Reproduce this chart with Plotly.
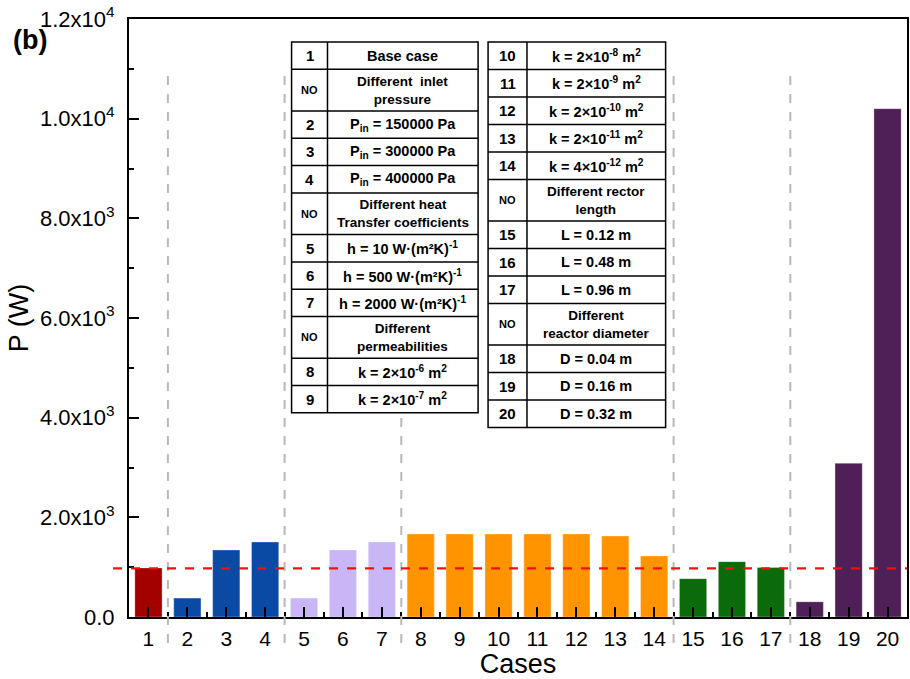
import plotly.graph_objects as go

# ---- data -------------------------------------------------------------
cases = list(range(1, 21))
power_w = [985, 380, 1345, 1505, 380, 1345, 1505, 1665, 1665, 1665,
           1665, 1665, 1625, 1225, 770, 1110, 995, 305, 3085, 10200]
group_colors = {
    "base": "#a30000",
    "pressure": "#0a4aa5",
    "heat": "#c9b6f7",
    "perm": "#ff9400",
    "length": "#0b6b0b",
    "diameter": "#4f1f57",
}
case_group = (["base"] + ["pressure"] * 3 + ["heat"] * 3 + ["perm"] * 7
              + ["length"] * 3 + ["diameter"] * 3)
base_value = 975
group_breaks = [1.5, 4.5, 7.5, 14.5, 17.5]

y_ticks = [0, 2000, 4000, 6000, 8000, 10000, 12000]
y_tick_text = ["0.0", "2.0x10<sup>3</sup>", "4.0x10<sup>3</sup>", "6.0x10<sup>3</sup>",
               "8.0x10<sup>3</sup>", "1.0x10<sup>4</sup>", "1.2x10<sup>4</sup>"]

# case tables: (number, description, is two-line header row)
table_left = [
    ("1", "Base case", False),
    ("NO", "Different  inlet<br>pressure", True),
    ("2", "P<sub>in</sub> = 150000 Pa", False),
    ("3", "P<sub>in</sub> = 300000 Pa", False),
    ("4", "P<sub>in</sub> = 400000 Pa", False),
    ("NO", "Different heat<br>Transfer coefficients", True),
    ("5", "h = 10 W·(m²K)<sup>-1</sup>", False),
    ("6", "h = 500 W·(m²K)<sup>-1</sup>", False),
    ("7", "h = 2000 W·(m²K)<sup>-1</sup>", False),
    ("NO", "Different<br>permeabilities", True),
    ("8", "k = 2×10<sup>-6</sup> m<sup>2</sup>", False),
    ("9", "k = 2×10<sup>-7</sup> m<sup>2</sup>", False),
]
table_right = [
    ("10", "k = 2×10<sup>-8</sup> m<sup>2</sup>", False),
    ("11", "k = 2×10<sup>-9</sup> m<sup>2</sup>", False),
    ("12", "k = 2×10<sup>-10</sup> m<sup>2</sup>", False),
    ("13", "k = 2×10<sup>-11</sup> m<sup>2</sup>", False),
    ("14", "k = 4×10<sup>-12</sup> m<sup>2</sup>", False),
    ("NO", "Different rector<br>length", True),
    ("15", "L = 0.12 m", False),
    ("16", "L = 0.48 m", False),
    ("17", "L = 0.96 m", False),
    ("NO", "Different<br>reactor diameter", True),
    ("18", "D = 0.04 m", False),
    ("19", "D = 0.16 m", False),
    ("20", "D = 0.32 m", False),
]

# ---- figure -------------------------------------------------------------
W, H = 910, 679
M_L, M_R, M_T, M_B = 129, 1, 19, 62
PW, PH = W - M_L - M_R, H - M_T - M_B
x_range = [0.5, 20.5]
FONT = "Liberation Sans, Arial"

fig = go.Figure()
fig.add_trace(go.Bar(
    x=cases, y=power_w, width=0.7,
    marker=dict(color=[group_colors[g] for g in case_group],
                line=dict(color="rgba(255,255,255,0.5)", width=0.6)),
    showlegend=False,
))

def px_x(px):
    return (px - M_L) / PW

def px_y(py):
    return 1 - (py - M_T) / PH

def data_x(v):
    return (v - x_range[0]) / (x_range[1] - x_range[0])

shapes = []
# group separators (run a little past the axis line)
for b in group_breaks:
    shapes.append(dict(type="line", xref="paper", yref="paper",
                       x0=data_x(b), x1=data_x(b), y0=px_y(643), y1=px_y(72),
                       line=dict(color="#b8b8b8", width=2, dash="dash"),
                       layer="above"))
# base case reference line
shapes.append(dict(type="line", xref="paper", yref="y",
                   x0=px_x(113), x1=1, y0=base_value, y1=base_value,
                   line=dict(color="#f01010", width=2.2, dash="dash"),
                   layer="above"))

annotations = []

def draw_table(rows, x_left, x_div, x_right, y_top, h1, h2):
    y = y_top
    cells = []
    for num, desc, tall in rows:
        h = h2 if tall else h1
        cells.append((y, y + h, num, desc, tall))
        y += h
    # white background + outer frame
    shapes.append(dict(type="rect", xref="paper", yref="paper",
                       x0=px_x(x_left), x1=px_x(x_right),
                       y0=px_y(y), y1=px_y(y_top),
                       fillcolor="white", line=dict(color="black", width=1.5),
                       layer="above"))
    shapes.append(dict(type="line", xref="paper", yref="paper",
                       x0=px_x(x_div), x1=px_x(x_div),
                       y0=px_y(y), y1=px_y(y_top),
                       line=dict(color="black", width=1.5), layer="above"))
    for (t, b, num, desc, tall) in cells:
        if b < y:
            shapes.append(dict(type="line", xref="paper", yref="paper",
                               x0=px_x(x_left), x1=px_x(x_right),
                               y0=px_y(b), y1=px_y(b),
                               line=dict(color="black", width=1.5), layer="above"))
        yc = px_y((t + b) / 2)
        annotations.append(dict(
            x=px_x((x_left + x_div) / 2), y=yc, xref="paper", yref="paper",
            xanchor="center", yanchor="middle",
            text=f"<b>{num}</b>", showarrow=False,
            font=dict(size=11 if num == "NO" else 15, color="black", family=FONT)))
        annotations.append(dict(
            x=px_x((x_div + x_right) / 2), y=yc, xref="paper", yref="paper",
            xanchor="center", yanchor="middle",
            text=f"<b>{desc}</b>", showarrow=False,
            font=dict(size=13.5 if tall else 14.5, color="black", family=FONT)))

draw_table(table_left, 292, 328, 479, 42, 27.3, 41.7)
draw_table(table_right, 489, 528, 667, 42, 27.5, 41.5)

annotations.append(dict(x=px_x(11), y=px_y(40), xref="paper", yref="paper",
                        xanchor="left", yanchor="middle",
                        text="<b>(b)</b>", showarrow=False,
                        font=dict(size=27, color="black", family=FONT)))

fig.update_layout(
    width=W, height=H,
    margin=dict(l=M_L, r=M_R, t=M_T, b=M_B, pad=0),
    paper_bgcolor="white", plot_bgcolor="white",
    font=dict(family=FONT, color="black"),
    shapes=shapes, annotations=annotations,
    bargap=0.3,
)
fig.update_xaxes(
    range=x_range, tickvals=cases, ticktext=[str(c) for c in cases],
    ticks="inside", ticklen=10, tickwidth=2, tickcolor="black",
    minor=dict(tickvals=[c + 0.5 for c in cases[:-1]], ticks="inside",
               ticklen=5, tickwidth=2, tickcolor="black"),
    showline=True, linecolor="black", linewidth=2, mirror=True,
    showgrid=False, zeroline=False,
    tickfont=dict(size=21), ticklabelstandoff=2,
    title=dict(text="Cases", font=dict(size=27), standoff=8),
)
fig.update_yaxes(
    range=[0, 12000], tickvals=y_ticks, ticktext=y_tick_text,
    ticks="inside", ticklen=10, tickwidth=2, tickcolor="black",
    minor=dict(tickvals=[1000, 3000, 5000, 7000, 9000, 11000], ticks="inside",
               ticklen=5, tickwidth=2, tickcolor="black"),
    showline=True, linecolor="black", linewidth=2, mirror=True,
    showgrid=False, zeroline=False,
    tickfont=dict(size=22), ticklabelstandoff=8,
    title=dict(text="P (W)", font=dict(size=27), standoff=4),
)

fig.write_html("out.html")
